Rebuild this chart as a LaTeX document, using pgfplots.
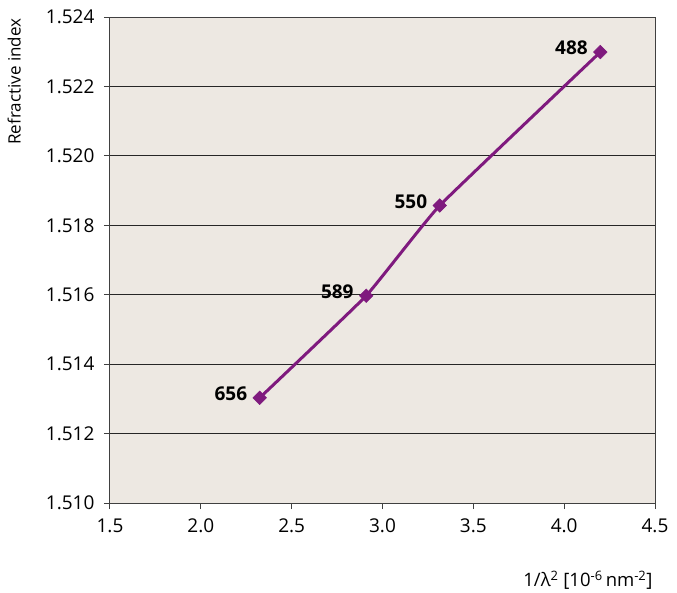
\documentclass[border=0pt]{standalone}
\usepackage{fontspec}
\setmainfont{Open Sans}
\usepackage{pgfplots}
\pgfplotsset{compat=1.18}
\definecolor{plotbg}{HTML}{EDE8E2}
\definecolor{linepurple}{HTML}{7F1A7E}
\definecolor{axisgray}{HTML}{404040}

\pgfplotstableread{
x      y        lab
2.324  1.51303  656
2.910  1.51597  589
3.315  1.51857  550
4.199  1.52299  488
}\refdata

\begin{document}
\begin{tikzpicture}
\begin{axis}[
  scale only axis,
  width=545pt, height=486pt,
  xmin=1.5, xmax=4.5, ymin=1.510, ymax=1.524,
  xtick={1.5,2.0,...,4.5},
  ytick={1.510,1.512,...,1.524},
  /pgf/number format/assume math mode=true,
  xticklabel style={/pgf/number format/.cd, fixed, fixed zerofill, precision=1},
  yticklabel style={/pgf/number format/.cd, fixed, fixed zerofill, precision=3},
  tick label style={font=\fontsize{19}{22}\selectfont, text=black},
  tick align=outside, major tick length=6pt,
  tick style={axisgray, line width=1pt},
  xtick pos=bottom, ytick pos=left,
  axis background/.style={fill=plotbg},
  axis line style={axisgray, line width=1pt},
  ymajorgrids, grid style={black!85, line width=0.8pt},
  xticklabel shift=6pt, yticklabel shift=6pt,
  clip=false,
]
\addplot[linepurple, line width=3pt, smooth, tension=0.2,
  mark=square*, mark size=4.8pt, mark options={fill=linepurple, rotate=45, line width=0.5pt},
  point meta=explicit symbolic,
  nodes near coords,
  every node near coord/.append style={anchor=east, font=\fontsize{19}{22}\selectfont\bfseries, text=black, xshift=-9pt, yshift=4pt},
] table[x=x, y=y, meta=lab] {\refdata};
\end{axis}
\node[rotate=90, anchor=north east, font=\fontsize{17}{20}\selectfont] at (-106pt,488pt) {Refractive index};
\node[anchor=east, font=\fontsize{18.5}{21}\selectfont] at (546pt,-77pt) {1/λ\textsuperscript{2} [10\textsuperscript{-6}\,nm\textsuperscript{-2}]};
\useasboundingbox (-110pt,-89pt) rectangle (567pt,503pt);
\end{tikzpicture}
\end{document}
